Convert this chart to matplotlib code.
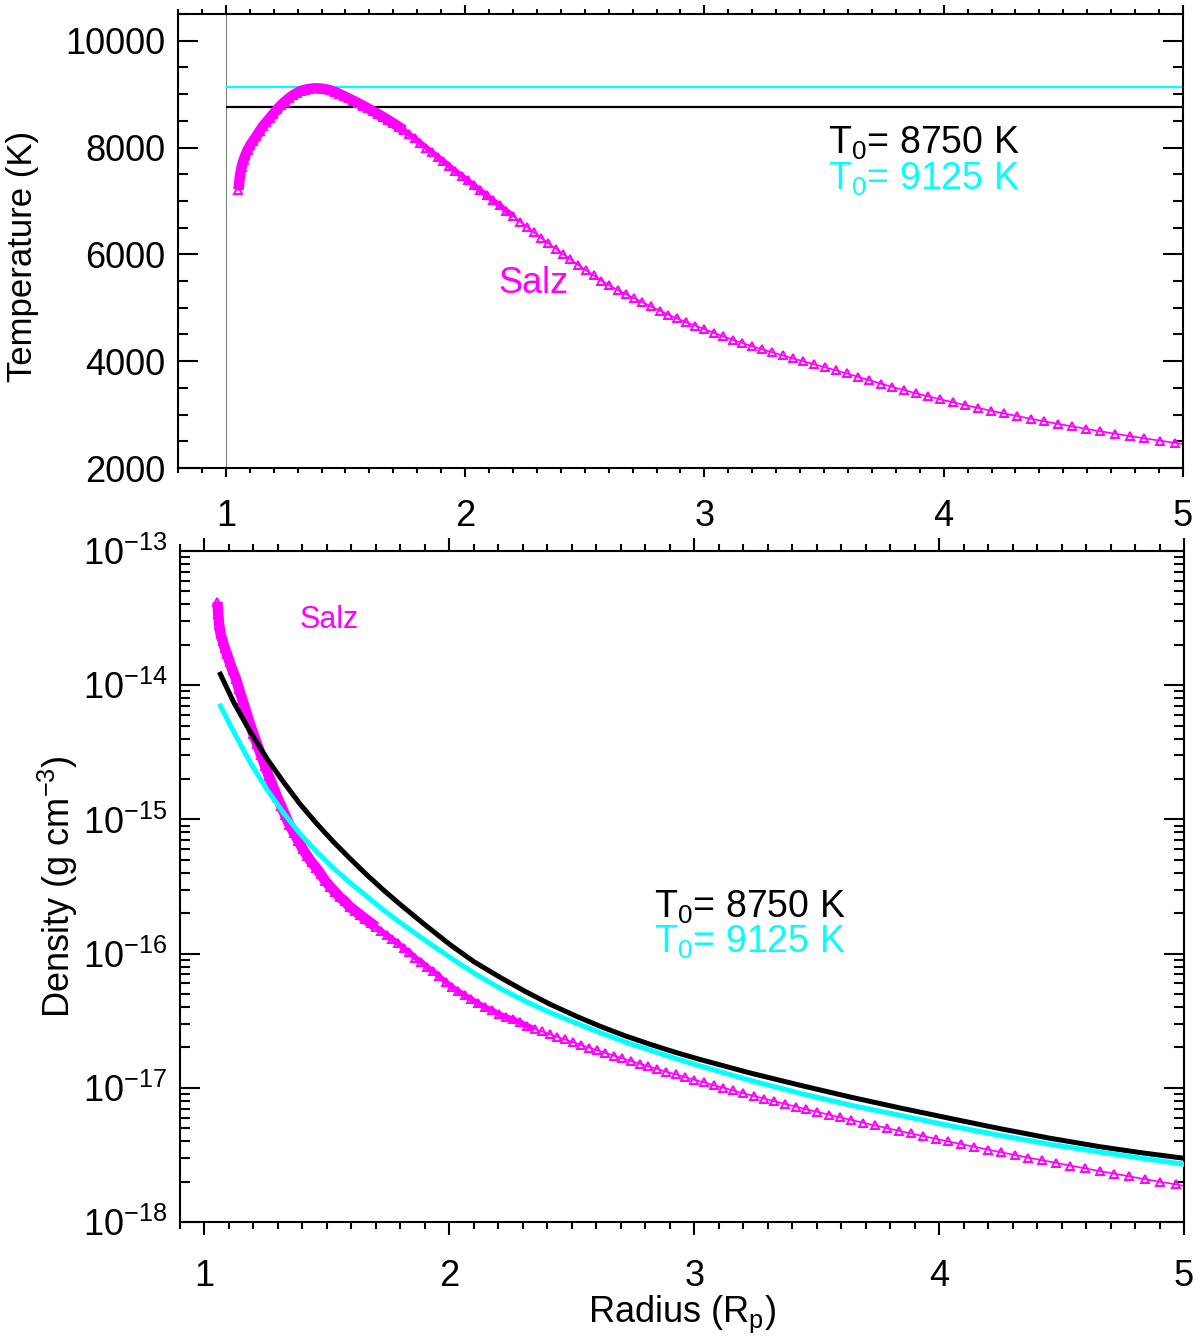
import numpy as np
import matplotlib
matplotlib.use('Agg')
import matplotlib.pyplot as plt
from matplotlib.ticker import MultipleLocator, LogLocator, NullFormatter, FixedLocator

plt.rcParams['font.family'] = ['Liberation Sans', 'DejaVu Sans']
plt.rcParams['mathtext.fontset'] = 'custom'
plt.rcParams['mathtext.rm'] = 'Liberation Sans'
plt.rcParams['mathtext.default'] = 'regular'
plt.rcParams['axes.unicode_minus'] = False

MAG = '#ff00ff'
CYAN = '#00ffff'

# Salz model grid (radius in Rp)
r_salz = [1.053, 1.056, 1.060, 1.066, 1.074, 1.082, 1.092, 1.103, 1.115, 1.128,
          1.141, 1.155, 1.169, 1.184, 1.199, 1.215, 1.231, 1.247, 1.263, 1.279,
          1.296, 1.313, 1.330, 1.347, 1.365, 1.383, 1.401, 1.419, 1.437, 1.456,
          1.475, 1.494, 1.513, 1.533, 1.553, 1.573, 1.593, 1.614, 1.635, 1.656,
          1.678, 1.700, 1.722, 1.744, 1.767, 1.790, 1.813, 1.837, 1.861, 1.885,
          1.909, 1.934, 1.959, 1.985, 2.011, 2.037, 2.063, 2.090, 2.117, 2.145,
          2.173, 2.201, 2.230, 2.259, 2.288, 2.318, 2.348, 2.378, 2.409, 2.440,
          2.472, 2.504, 2.537, 2.570, 2.603, 2.637, 2.671, 2.706, 2.741, 2.777,
          2.813, 2.849, 2.886, 2.924, 2.962, 3.000, 3.039, 3.079, 3.119, 3.159,
          3.200, 3.242, 3.284, 3.327, 3.370, 3.414, 3.458, 3.503, 3.549, 3.595,
          3.642, 3.689, 3.737, 3.786, 3.835, 3.885, 3.935, 3.986, 4.038, 4.091,
          4.144, 4.198, 4.253, 4.308, 4.364, 4.421, 4.478, 4.536, 4.595, 4.655,
          4.716, 4.777, 4.839, 4.902, 4.966, 5.030]

T_salz = [7210, 7360, 7500, 7640, 7760, 7860, 7960, 8050, 8130, 8215,
          8305, 8400, 8474, 8553, 8633, 8717, 8795, 8860, 8920, 8975,
          9020, 9058, 9082, 9098, 9106, 9108, 9103, 9090, 9070, 9040,
          9003, 8962, 8920, 8876, 8832, 8784, 8735, 8685, 8630, 8575,
          8515, 8455, 8390, 8325, 8250, 8170, 8090, 8000, 7915, 7830,
          7745, 7655, 7565, 7475, 7385, 7295, 7200, 7105, 7010, 6915,
          6815, 6715, 6615, 6510, 6410, 6310, 6205, 6105, 6005, 5905,
          5805, 5705, 5605, 5510, 5420, 5335, 5255, 5180, 5105, 5025,
          4945, 4870, 4800, 4730, 4665, 4600, 4530, 4465, 4400, 4340,
          4280, 4222, 4165, 4108, 4052, 3997, 3943, 3888, 3830, 3770,
          3706, 3644, 3580, 3518, 3458, 3398, 3342, 3287, 3232, 3178,
          3125, 3073, 3022, 2972, 2923, 2874, 2827, 2780, 2734, 2688,
          2643, 2599, 2556, 2514, 2472, 2432]

logrho_salz = [-13.38, -13.47, -13.55, -13.62, -13.67, -13.72, -13.77, -13.83, -13.89, -13.95,
               -14.03, -14.11, -14.19, -14.28, -14.36, -14.44, -14.52, -14.60, -14.68, -14.75,
               -14.83, -14.90, -14.97, -15.04, -15.10, -15.16, -15.22, -15.27, -15.32, -15.36,
               -15.41, -15.46, -15.50, -15.54, -15.58, -15.61, -15.65, -15.68, -15.71, -15.74,
               -15.77, -15.80, -15.83, -15.86, -15.89, -15.92, -15.96, -15.99, -16.03, -16.06,
               -16.10, -16.13, -16.17, -16.21, -16.25, -16.28, -16.31, -16.34, -16.37, -16.40,
               -16.42, -16.45, -16.47, -16.49, -16.51, -16.54, -16.56, -16.58, -16.60, -16.62,
               -16.64, -16.66, -16.68, -16.70, -16.72, -16.74, -16.76, -16.78, -16.80, -16.82,
               -16.84, -16.86, -16.88, -16.90, -16.92, -16.94, -16.96, -16.98, -17.00, -17.02,
               -17.04, -17.06, -17.08, -17.10, -17.12, -17.14, -17.16, -17.18, -17.20, -17.22,
               -17.24, -17.26, -17.28, -17.30, -17.32, -17.34, -17.36, -17.38, -17.40, -17.42,
               -17.44, -17.46, -17.48, -17.50, -17.52, -17.54, -17.56, -17.58, -17.60, -17.62,
               -17.64, -17.66, -17.68, -17.70, -17.72, -17.74]

# near the planet the Salz markers merge into a solid band
# (index where the band is thick, index where it is still partly solid)
band_T = (44, 62)
band_rho = (42, 67)

# isothermal models
T0_a = 8750
T0_b = 9125
r_iso_min, r_iso_max = 1.0, 5.0

r_mod = [1.065, 1.12, 1.188, 1.256, 1.324, 1.392, 1.46, 1.528, 1.596, 1.664,
         1.73, 1.80, 1.90, 2.004, 2.10, 2.208, 2.31, 2.412, 2.52, 2.616,
         2.72, 2.82, 2.92, 3.02, 3.229, 3.43, 3.64, 3.84, 4.05, 4.25,
         4.45, 4.66, 4.83, 5.0]
logrho_a = [-13.918, -14.13, -14.35, -14.55, -14.725, -14.89, -15.035, -15.17, -15.295, -15.415,
            -15.525, -15.635, -15.785, -15.935, -16.06, -16.178, -16.282, -16.378, -16.468, -16.542,
            -16.614, -16.676, -16.734, -16.787, -16.89, -16.98, -17.07, -17.15, -17.23, -17.305,
            -17.375, -17.44, -17.485, -17.525]
logrho_b = [-14.155, -14.35, -14.58, -14.78, -14.955, -15.11, -15.245, -15.365, -15.475, -15.575,
            -15.675, -15.77, -15.90, -16.03, -16.145, -16.26, -16.355, -16.44, -16.52, -16.59,
            -16.66, -16.72, -16.78, -16.835, -16.945, -17.04, -17.13, -17.205, -17.285, -17.355,
            -17.42, -17.48, -17.525, -17.57]

rho_ticks = [1e-18, 1e-17, 1e-16, 1e-15, 1e-14, 1e-13]

rho_salz = 10.0 ** np.array(logrho_salz)
rho_a = 10.0 ** np.array(logrho_a)
rho_b = 10.0 ** np.array(logrho_b)


def salz_curve(ax, y, band):
    n1, n2 = band
    ax.plot(r_salz[:n1], y[:n1], color=MAG, lw=7.5, solid_capstyle='butt', zorder=2)
    ax.plot(r_salz[n1 - 1:n2], y[n1 - 1:n2], color=MAG, lw=4.0, solid_capstyle='butt', zorder=2)
    ax.plot(r_salz, y, color=MAG, lw=1.2, marker='^', ms=5.5, mfc='none',
            mec=MAG, mew=1.4, zorder=2)


fig = plt.figure(figsize=(12, 13.43), dpi=100)

# ---------------- top panel: temperature ----------------
ax1 = fig.add_axes([0.1483, 0.6515, 0.8375, 0.3381])
ax1.axvline(1.0, color='gray', lw=0.8, zorder=1)
ax1.hlines(T0_b, r_iso_min, r_iso_max, color=CYAN, lw=1.6, zorder=1)
ax1.hlines(T0_a, r_iso_min, r_iso_max, color='black', lw=1.6, zorder=1)
salz_curve(ax1, np.array(T_salz), band_T)
ax1.set_xlim(0.8, 5.0)
ax1.set_ylim(2000, 10500)
ax1.set_xticks([1, 2, 3, 4, 5])
ax1.xaxis.set_minor_locator(MultipleLocator(0.1))
ax1.set_yticks([2000, 4000, 6000, 8000, 10000])
ax1.yaxis.set_minor_locator(MultipleLocator(500))
ax1.tick_params(axis='x', which='both', direction='out', top=True, bottom=True,
                labelsize=26, width=1.5, pad=16)
ax1.tick_params(axis='x', which='major', length=6.5)
ax1.tick_params(axis='x', which='minor', length=3.6)
ax1.tick_params(axis='y', which='both', direction='in', left=True, right=True,
                labelsize=26, width=1.5, pad=9)
ax1.tick_params(axis='y', which='major', length=14.4)
ax1.tick_params(axis='y', which='minor', length=7.2)
ax1.set_ylabel('Temperature (K)', fontsize=25)
ax1.yaxis.set_label_coords(-0.138, 0.465)
for s in ax1.spines.values():
    s.set_linewidth(1.5)

ax1.text(3.518, 7876, 'T$_0$= 8750 K', color='black', fontsize=27, ha='left', va='baseline')
ax1.text(3.518, 7206, 'T$_0$= 9125 K', color=CYAN, fontsize=27, ha='left', va='baseline')
ax1.text(2.138, 5269, 'Salz', color=MAG, fontsize=26, ha='left', va='baseline')

# ---------------- bottom panel: density ----------------
ax2 = fig.add_axes([0.15, 0.0901, 0.8367, 0.4996])
salz_curve(ax2, rho_salz, band_rho)
ax2.plot(r_mod, rho_a, color='black', lw=3.6, zorder=3)
ax2.plot(r_mod, rho_b, color=CYAN, lw=3.6, zorder=3)
ax2.set_yscale('log')
ax2.set_xlim(0.9, 5.0)
ax2.set_ylim(1e-18, 1e-13)
ax2.set_xticks([1, 2, 3, 4, 5])
ax2.xaxis.set_minor_locator(MultipleLocator(0.1))
ax2.yaxis.set_major_locator(FixedLocator(rho_ticks))
ax2.yaxis.set_minor_locator(LogLocator(base=10, subs=np.arange(2, 10), numticks=20))
ax2.yaxis.set_minor_formatter(NullFormatter())
ax2.tick_params(axis='x', which='both', direction='out', top=True, bottom=True,
                labelsize=26, width=1.5, pad=17)
ax2.tick_params(axis='x', which='major', length=9.4)
ax2.tick_params(axis='x', which='minor', length=5.0)
ax2.tick_params(axis='y', which='both', direction='in', left=True, right=True,
                labelsize=26, width=1.5, pad=9)
ax2.tick_params(axis='y', which='major', length=14.4)
ax2.tick_params(axis='y', which='minor', length=7.2)
ax2.set_ylabel('Density (g cm$^{-3}$)', fontsize=26)
ax2.yaxis.set_label_coords(-0.0996, 0.5)
ax2.set_xlabel('Radius (R$_p$)', fontsize=26)
ax2.xaxis.set_label_coords(0.5, -0.106)
for s in ax2.spines.values():
    s.set_linewidth(1.5)

ax2.text(2.834, 10 ** -15.734, 'T$_0$= 8750 K', color='black', fontsize=27, ha='left', va='baseline')
ax2.text(2.834, 10 ** -15.995, 'T$_0$= 9125 K', color=CYAN, fontsize=27, ha='left', va='baseline')
ax2.text(1.389, 10 ** -13.577, 'Salz', color=MAG, fontsize=22, ha='left', va='baseline')

fig.savefig('out.png', dpi=100)
